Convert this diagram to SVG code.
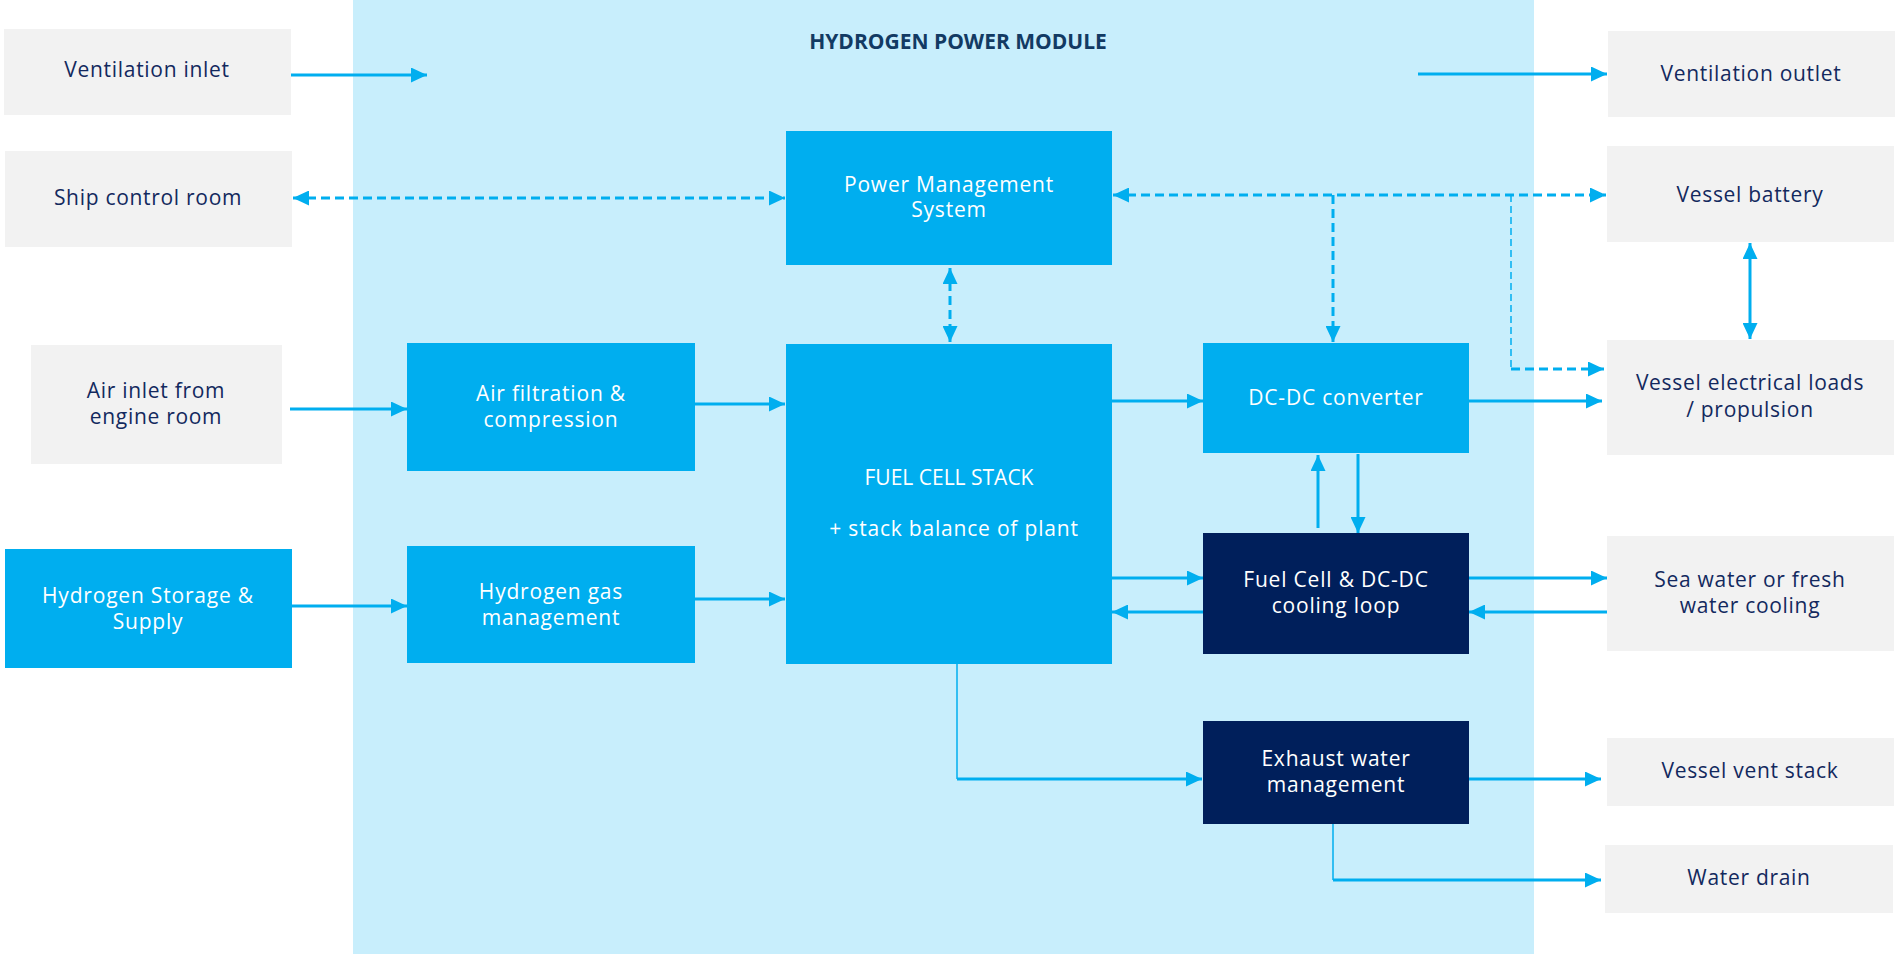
<svg xmlns="http://www.w3.org/2000/svg" width="1896" height="954" viewBox="0 0 1896 954">
<defs>
<style>
.ext{fill:#f2f2f2}
.mid{fill:#00aeef}
.dark{fill:#001f5b}
.tn{font-family:"Open Sans","Liberation Sans",sans-serif;font-size:21px;letter-spacing:0.7px;fill:#13295e;text-anchor:middle}
.tw{font-family:"Open Sans","Liberation Sans",sans-serif;font-size:21px;letter-spacing:0.8px;fill:#ffffff;text-anchor:middle}
.ttl{font-family:"Open Sans","Liberation Sans",sans-serif;font-size:21px;font-weight:700;fill:#123a63;text-anchor:middle}
.c{stroke:#00aeef;stroke-width:3;fill:none}
.ct{stroke:#00aeef;stroke-width:1.5;fill:none}
.d{stroke:#00aeef;stroke-width:3;fill:none;stroke-dasharray:9 5}
.dt{stroke:#00aeef;stroke-width:1.5;fill:none;stroke-dasharray:7 4}
</style>
<marker id="ah" viewBox="0 0 16 15" markerWidth="16" markerHeight="15" refX="16" refY="7.5" orient="auto-start-reverse" markerUnits="userSpaceOnUse">
<path d="M0,0 L16,7.5 L0,15 z" fill="#00aeef"/>
</marker>
</defs>
<rect x="0" y="0" width="1896" height="954" fill="#ffffff"/>
<rect id="module" x="353" y="0" width="1181" height="954" fill="#c8eefc"/>
<text class="ttl" x="958" y="49">HYDROGEN POWER MODULE</text>

<g id="ventilation-inlet"><rect class="ext" x="4" y="29" width="287" height="86"/><text class="tn" x="147" y="77">Ventilation inlet</text></g>
<g id="ship-control-room"><rect class="ext" x="5" y="151" width="287" height="96"/><text class="tn" x="148" y="205">Ship control room</text></g>
<g id="air-inlet"><rect class="ext" x="31" y="345" width="251" height="119"/><text class="tn" x="156" y="398">Air inlet from</text><text class="tn" x="156" y="424">engine room</text></g>
<g id="hydrogen-storage"><rect class="mid" x="5" y="549" width="287" height="119"/><text class="tw" x="148" y="603">Hydrogen Storage &amp;</text><text class="tw" x="148" y="629">Supply</text></g>

<g id="pms"><rect class="mid" x="786" y="131" width="326" height="134"/><text class="tw" x="949" y="192">Power Management</text><text class="tw" x="949" y="217">System</text></g>
<g id="air-filtration"><rect class="mid" x="407" y="343" width="288" height="128"/><text class="tw" x="551" y="401">Air filtration &amp;</text><text class="tw" x="551" y="427">compression</text></g>
<g id="hydrogen-gas"><rect class="mid" x="407" y="546" width="288" height="117"/><text class="tw" x="551" y="599">Hydrogen gas</text><text class="tw" x="551" y="625">management</text></g>
<g id="fuel-cell-stack"><rect class="mid" x="786" y="344" width="326" height="320"/><text class="tw" x="949" y="485" style="letter-spacing:0">FUEL CELL STACK</text><text class="tw" x="954" y="536">+ stack balance of plant</text></g>
<g id="dcdc"><rect class="mid" x="1203" y="343" width="266" height="110"/><text class="tw" x="1336" y="405">DC-DC converter</text></g>
<g id="cooling-loop"><rect class="dark" x="1203" y="533" width="266" height="121"/><text class="tw" x="1336" y="587">Fuel Cell &amp; DC-DC</text><text class="tw" x="1336" y="613">cooling loop</text></g>
<g id="exhaust"><rect class="dark" x="1203" y="721" width="266" height="103"/><text class="tw" x="1336" y="766">Exhaust water</text><text class="tw" x="1336" y="792">management</text></g>

<g id="ventilation-outlet"><rect class="ext" x="1608" y="31" width="287" height="86"/><text class="tn" x="1751" y="81">Ventilation outlet</text></g>
<g id="vessel-battery"><rect class="ext" x="1607" y="146" width="287" height="96"/><text class="tn" x="1750" y="202">Vessel battery</text></g>
<g id="vessel-loads"><rect class="ext" x="1607" y="340" width="287" height="115"/><text class="tn" x="1750" y="390">Vessel electrical loads</text><text class="tn" x="1750" y="417">/ propulsion</text></g>
<g id="sea-water"><rect class="ext" x="1607" y="536" width="287" height="115"/><text class="tn" x="1750" y="587">Sea water or fresh</text><text class="tn" x="1750" y="613">water cooling</text></g>
<g id="vent-stack"><rect class="ext" x="1607" y="738" width="287" height="68"/><text class="tn" x="1750" y="778">Vessel vent stack</text></g>
<g id="water-drain"><rect class="ext" x="1605" y="845" width="288" height="68"/><text class="tn" x="1749" y="885">Water drain</text></g>

<g id="connectors">
<line class="c" x1="291" y1="75" x2="427" y2="75" marker-end="url(#ah)"/>
<line class="c" x1="1418" y1="74" x2="1607" y2="74" marker-end="url(#ah)"/>
<line class="d" x1="293" y1="198" x2="785" y2="198" marker-start="url(#ah)" marker-end="url(#ah)"/>
<line class="d" x1="1113" y1="195" x2="1606" y2="195" marker-start="url(#ah)" marker-end="url(#ah)"/>
<line class="d" x1="950" y1="268" x2="950" y2="342" marker-start="url(#ah)" marker-end="url(#ah)"/>
<line class="d" x1="1333" y1="195" x2="1333" y2="342" marker-end="url(#ah)"/>
<line class="dt" x1="1511" y1="195" x2="1511" y2="369"/>
<line class="d" x1="1511" y1="369" x2="1604" y2="369" marker-end="url(#ah)"/>
<line class="c" x1="1750" y1="243" x2="1750" y2="339" marker-start="url(#ah)" marker-end="url(#ah)"/>
<line class="c" x1="290" y1="409" x2="407" y2="409" marker-end="url(#ah)"/>
<line class="c" x1="292" y1="606" x2="407" y2="606" marker-end="url(#ah)"/>
<line class="c" x1="695" y1="404" x2="785" y2="404" marker-end="url(#ah)"/>
<line class="c" x1="695" y1="599" x2="785" y2="599" marker-end="url(#ah)"/>
<line class="c" x1="1112" y1="401" x2="1203" y2="401" marker-end="url(#ah)"/>
<line class="c" x1="1469" y1="401" x2="1602" y2="401" marker-end="url(#ah)"/>
<line class="c" x1="1318" y1="528" x2="1318" y2="455" marker-end="url(#ah)"/>
<line class="c" x1="1358" y1="454" x2="1358" y2="533" marker-end="url(#ah)"/>
<line class="c" x1="1112" y1="578" x2="1203" y2="578" marker-end="url(#ah)"/>
<line class="c" x1="1203" y1="612" x2="1112" y2="612" marker-end="url(#ah)"/>
<line class="c" x1="1469" y1="578" x2="1607" y2="578" marker-end="url(#ah)"/>
<line class="c" x1="1607" y1="612" x2="1469" y2="612" marker-end="url(#ah)"/>
<line class="ct" x1="957" y1="664" x2="957" y2="779"/>
<line class="c" x1="957" y1="779" x2="1202" y2="779" marker-end="url(#ah)"/>
<line class="c" x1="1469" y1="779" x2="1601" y2="779" marker-end="url(#ah)"/>
<line class="ct" x1="1333" y1="824" x2="1333" y2="880"/>
<line class="c" x1="1333" y1="880" x2="1601" y2="880" marker-end="url(#ah)"/>
</g>
</svg>
